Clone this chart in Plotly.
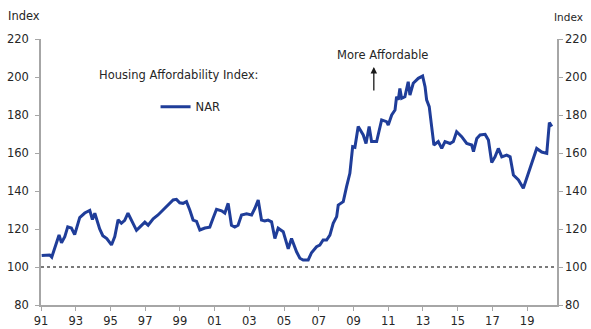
import plotly.graph_objects as go

# Decimal years and NAR Housing Affordability Index values
years = [
    1991.04, 1991.5, 1991.62, 1991.9, 1992.04, 1992.18, 1992.37, 1992.54, 1992.75, 1992.94,
    1993.23, 1993.52, 1993.81, 1993.96, 1994.1, 1994.38, 1994.56, 1994.79, 1995.06, 1995.25,
    1995.44, 1995.63, 1995.82, 1996.01, 1996.3, 1996.5, 1996.69, 1996.98, 1997.17, 1997.46,
    1997.74, 1998.03, 1998.32, 1998.61, 1998.8, 1998.99, 1999.18, 1999.38, 1999.57, 1999.76,
    1999.96, 2000.15, 2000.44, 2000.72, 2000.91, 2001.11, 2001.4, 2001.59, 2001.78, 2001.97,
    2002.16, 2002.35, 2002.55, 2002.84, 2003.13, 2003.32, 2003.51, 2003.7, 2003.89, 2004.08,
    2004.28, 2004.47, 2004.66, 2004.95, 2005.24, 2005.43, 2005.72, 2005.91, 2006.1, 2006.39,
    2006.58, 2006.87, 2007.06, 2007.25, 2007.45, 2007.64, 2007.83, 2008.03, 2008.12, 2008.41,
    2008.6, 2008.79, 2008.95, 2009.08, 2009.27, 2009.56, 2009.72, 2009.9, 2010.04, 2010.33,
    2010.62, 2010.9, 2011.0, 2011.2, 2011.39, 2011.48, 2011.58, 2011.67, 2011.77, 2011.96,
    2012.15, 2012.25, 2012.44, 2012.73, 2012.98, 2013.12, 2013.21, 2013.36, 2013.5, 2013.63,
    2013.88, 2014.08, 2014.27, 2014.56, 2014.75, 2014.94, 2015.23, 2015.52, 2015.81, 2015.91,
    2016.1, 2016.29, 2016.58, 2016.77, 2016.96, 2017.15, 2017.34, 2017.54, 2017.82, 2018.02,
    2018.21, 2018.5, 2018.78, 2018.98, 2019.27, 2019.55, 2019.84, 2020.13, 2020.28, 2020.42,
]
index_values = [
    106.0, 106.3, 105.2, 113.3, 116.8, 112.8, 116.0, 121.1, 120.5, 117.0,
    126.0, 128.4, 129.8, 125.0, 128.3, 120.0, 116.5, 115.0, 111.6, 116.0,
    124.8, 123.0, 124.5, 128.3, 123.0, 119.3, 121.0, 123.6, 122.0, 125.4,
    127.4, 130.0, 132.6, 135.3, 135.6, 133.8, 133.5, 134.4, 130.0, 124.7,
    124.0, 119.5, 120.5, 121.0, 125.7, 130.4, 129.6, 128.4, 133.5, 122.0,
    121.0, 122.0, 127.4, 128.0, 127.4, 130.9, 135.3, 124.7, 124.2, 124.7,
    123.8, 115.0, 120.4, 118.6, 109.6, 115.0, 108.0, 104.6, 103.7, 103.7,
    107.5, 110.7, 111.5, 114.2, 114.2, 116.8, 123.0, 126.5, 132.6, 134.4,
    142.3, 149.3, 163.3, 163.0, 173.9, 169.5, 165.0, 173.9, 166.0, 166.0,
    177.4, 176.5, 174.7, 180.0, 182.6, 189.6, 188.0, 194.0, 188.8, 189.6,
    197.5, 190.5, 196.7, 199.3, 200.5, 194.9, 188.0, 184.4, 173.9, 164.2,
    166.0, 162.4, 166.0, 165.0, 166.0, 171.2, 168.6, 165.0, 164.2, 160.7,
    167.6, 169.5, 169.8, 166.8, 155.0, 158.0, 162.4, 158.0, 158.9, 158.0,
    148.4, 145.8, 141.4, 146.7, 155.4, 162.4, 160.5, 159.8, 176.0, 173.9,
]
baseline_value = 100
tick_years = [1991, 1993, 1995, 1997, 1999, 2001, 2003, 2005, 2007, 2009,
              2011, 2013, 2015, 2017, 2019]
tick_labels = ["91", "93", "95", "97", "99", "01", "03", "05", "07", "09",
               "11", "13", "15", "17", "19"]
y_ticks = [80, 100, 120, 140, 160, 180, 200, 220]

FONT = "DejaVu Sans, sans-serif"
AXIS_COLOR = "#a6a6a6"
TEXT_COLOR = "#262626"

fig = go.Figure()
fig.add_trace(go.Scatter(
    x=years, y=index_values, mode="lines", name="NAR",
    line=dict(color="#1f3d99", width=3), showlegend=True,
))
# invisible companion trace so the right-hand axis is drawn
fig.add_trace(go.Scatter(
    x=[years[0]], y=[index_values[0]], yaxis="y2", mode="lines",
    line=dict(width=0), showlegend=False, hoverinfo="skip", opacity=0,
))

fig.add_hline(y=baseline_value, line=dict(color="#7a7a7a", width=2, dash="dot"))

axis_common = dict(
    showline=True, linecolor=AXIS_COLOR, linewidth=1.5, ticks="outside",
    ticklen=4, tickcolor=AXIS_COLOR, showgrid=False, zeroline=False,
    automargin=False,
    tickfont=dict(family=FONT, size=11.5, color=TEXT_COLOR),
)

fig.update_layout(
    width=591, height=329,
    margin=dict(l=41, r=34, t=39, b=24, autoexpand=False),
    paper_bgcolor="white", plot_bgcolor="white",
    xaxis=dict(range=[1991, 2020.72], tickvals=tick_years, ticktext=tick_labels,
               **axis_common),
    yaxis=dict(range=[80, 220], tickvals=y_ticks, ticklabelstandoff=4, **axis_common),
    yaxis2=dict(range=[80, 220], tickvals=y_ticks, overlaying="y", side="right",
                **axis_common),
    legend=dict(x=0.222, y=0.80, xanchor="left", yanchor="top",
                bgcolor="rgba(0,0,0,0)", itemwidth=30,
                font=dict(family=FONT, size=11.5, color=TEXT_COLOR)),
    showlegend=True,
)

fig.add_annotation(text="Index", xref="paper", yref="paper", x=-0.033, y=1.085,
                   xanchor="center", yanchor="middle", showarrow=False,
                   font=dict(family=FONT, size=11.5, color=TEXT_COLOR))
fig.add_annotation(text="Index", xref="paper", yref="paper", x=1.022, y=1.083,
                   xanchor="center", yanchor="middle", showarrow=False,
                   font=dict(family=FONT, size=10.5, color=TEXT_COLOR))
fig.add_annotation(text="Housing Affordability Index:", xref="paper", yref="paper",
                   x=0.267, y=0.865, xanchor="center", yanchor="middle",
                   showarrow=False, font=dict(family=FONT, size=11.5, color=TEXT_COLOR))
fig.add_annotation(text="More Affordable", xref="paper", yref="paper",
                   x=0.662, y=0.94, xanchor="center", yanchor="middle",
                   showarrow=False, font=dict(family=FONT, size=11.5, color=TEXT_COLOR))
fig.add_annotation(text="", xref="paper", yref="paper", x=0.645, y=0.895,
                   ax=0, ay=25, showarrow=True, arrowhead=2, arrowsize=1,
                   arrowwidth=1.3, arrowcolor="#1a1a1a")

fig.write_html("out.html")
